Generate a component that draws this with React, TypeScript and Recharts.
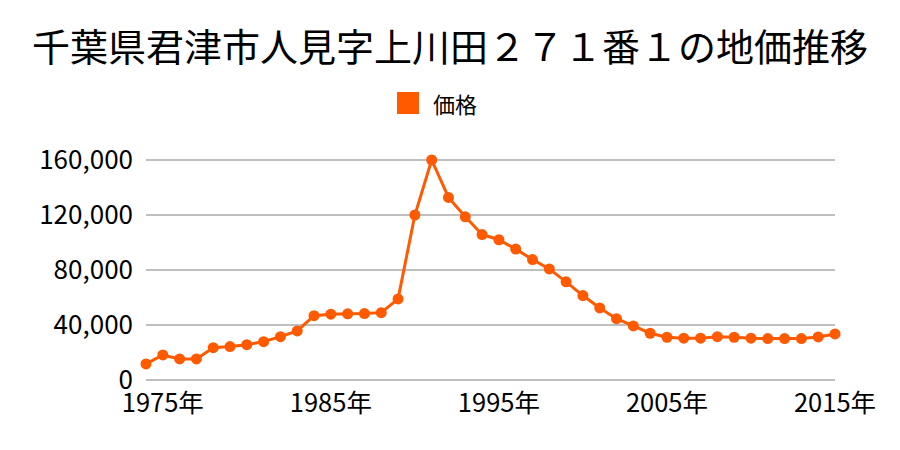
import { LineChart, Line, XAxis, YAxis, CartesianGrid } from 'recharts';

const years = [
  1974, 1975, 1976, 1977, 1978, 1979, 1980, 1981, 1982, 1983,
  1984, 1985, 1986, 1987, 1988, 1989, 1990, 1991, 1992, 1993,
  1994, 1995, 1996, 1997, 1998, 1999, 2000, 2001, 2002, 2003,
  2004, 2005, 2006, 2007, 2008, 2009, 2010, 2011, 2012, 2013,
  2014, 2015,
];

const prices = [
  11700, 18200, 15300, 15300, 23500, 24300, 25700, 27900, 31500, 35700,
  46800, 47900, 48100, 48300, 49000, 59000, 120000, 160000, 132800, 118700,
  105800, 102000, 95200, 87600, 80800, 71400, 61400, 52400, 44600, 39300,
  34000, 31100, 30400, 30400, 31500, 31100, 30400, 30100, 30100, 30100,
  31300, 33500,
];

const xTicks = [1975, 1985, 1995, 2005, 2015];
const yTicks = [0, 40000, 80000, 120000, 160000];

const TITLE = '千葉県君津市人見字上川田２７１番１の地価推移';
const SERIES = '価格';
const COLOR = '#ff5a00';
const FONT = '"Noto Sans CJK JP", "Noto Sans", sans-serif';

export default function App() {
  const data = years.map((y, i) => ({ year: y, price: prices[i] }));

  return (
    <div style={{ position: 'absolute', left: 0, top: 0, width: 900, height: 450, fontFamily: FONT, background: '#fff' }}>
      <div style={{ position: 'absolute', top: 19, left: 0, width: 900, textAlign: 'center', fontSize: 38, lineHeight: '52px', color: '#000' }}>
        {TITLE}
      </div>
      <div style={{ position: 'absolute', top: 90, left: 397, display: 'flex', alignItems: 'center', fontSize: 22, color: '#000' }}>
        <span style={{ display: 'inline-block', width: 22, height: 22, background: COLOR, marginRight: 14 }} />
        <span style={{ lineHeight: '26px' }}>{SERIES}</span>
      </div>
      <LineChart
        width={900}
        height={450}
        data={data}
        margin={{ top: 160, right: 65, left: 0, bottom: 0 }}
        style={{ position: 'absolute', left: 0, top: 0 }}
      >
        <CartesianGrid vertical={false} stroke="#aaaaaa" strokeWidth={1.5} />
        <XAxis
          dataKey="year"
          ticks={xTicks}
          interval={0}
          height={70}
          axisLine={false}
          tickLine={false}
          tickMargin={8}
          tickFormatter={(v) => `${v}年`}
          tick={{ fill: '#000', fontSize: 25.5, fontFamily: FONT }}
        />
        <YAxis
          width={146}
          domain={[0, 160000]}
          ticks={yTicks}
          axisLine={false}
          tickLine={false}
          tickMargin={7}
          tickFormatter={(v) => v.toLocaleString('en-US')}
          tick={{ fill: '#000', fontSize: 26, fontFamily: FONT }}
        />
        <Line
          type="linear"
          dataKey="price"
          stroke={COLOR}
          strokeWidth={3}
          dot={{ r: 5.5, fill: COLOR, stroke: COLOR, strokeWidth: 0 }}
          isAnimationActive={false}
        />
      </LineChart>
    </div>
  );
}
